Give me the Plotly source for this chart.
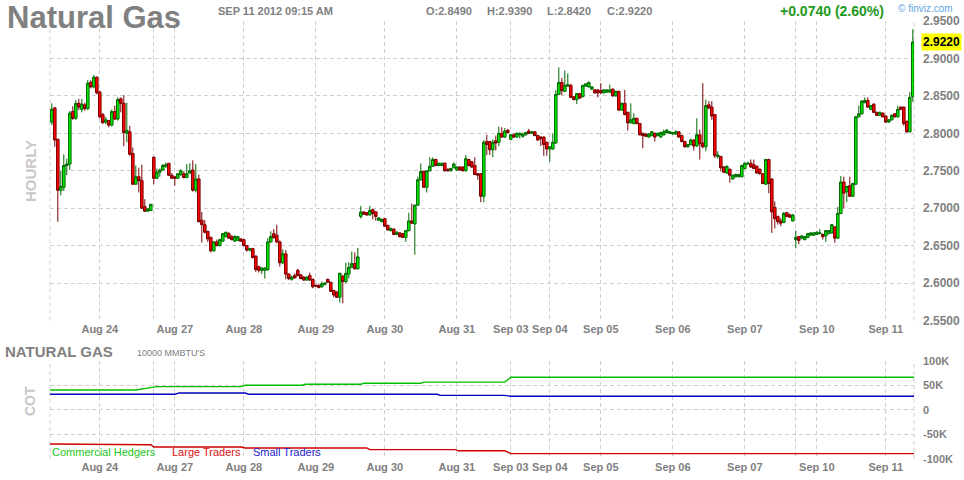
import plotly.graph_objects as go

# ---------------- data (hourly candles) ----------------
open_ = [
    2.815, 2.834, 2.792, 2.724, 2.728, 2.757, 2.759, 2.829, 2.820, 2.840, 2.832, 2.838,
    2.833, 2.868, 2.862, 2.875, 2.855, 2.825, 2.815, 2.817, 2.811, 2.829, 2.819, 2.846,
    2.840, 2.800, 2.802, 2.773, 2.732, 2.742, 2.737, 2.702, 2.696, 2.697, 2.768, 2.740,
    2.748, 2.751, 2.756, 2.760, 2.744, 2.742, 2.740, 2.745, 2.746, 2.741, 2.747, 2.751,
    2.724, 2.739, 2.684, 2.678, 2.669, 2.661, 2.643, 2.655, 2.650, 2.656, 2.662, 2.666,
    2.662, 2.656, 2.657, 2.659, 2.658, 2.650, 2.644, 2.646, 2.636, 2.622, 2.617, 2.617,
    2.618, 2.655, 2.666, 2.664, 2.655, 2.627, 2.639, 2.612, 2.605, 2.610, 2.617, 2.611,
    2.608, 2.604, 2.610, 2.605, 2.597, 2.597, 2.595, 2.598, 2.605, 2.601, 2.590, 2.588,
    2.581, 2.609, 2.602, 2.612, 2.621, 2.626, 2.619, 2.689, 2.695, 2.694, 2.691, 2.698,
    2.695, 2.684, 2.682, 2.686, 2.677, 2.670, 2.672, 2.665, 2.667, 2.666, 2.661, 2.670,
    2.683, 2.679, 2.704, 2.738, 2.749, 2.728, 2.750, 2.756, 2.765, 2.757, 2.757, 2.760,
    2.752, 2.750, 2.754, 2.751, 2.755, 2.755, 2.750, 2.765, 2.762, 2.757, 2.746, 2.746,
    2.716, 2.789, 2.789, 2.778, 2.790, 2.788, 2.800, 2.795, 2.804, 2.792, 2.798, 2.795,
    2.798, 2.796, 2.798, 2.803, 2.800, 2.802, 2.797, 2.795, 2.795, 2.788, 2.779, 2.779,
    2.787, 2.852, 2.868, 2.856, 2.863, 2.864, 2.849, 2.845, 2.853, 2.849, 2.863, 2.862,
    2.859, 2.858, 2.858, 2.857, 2.854, 2.855, 2.855, 2.859, 2.850, 2.856, 2.831, 2.840,
    2.828, 2.814, 2.813, 2.820, 2.813, 2.800, 2.799, 2.795, 2.797, 2.800, 2.797, 2.795,
    2.798, 2.801, 2.800, 2.799, 2.799, 2.802, 2.797, 2.789, 2.782, 2.785, 2.791, 2.783,
    2.798, 2.787, 2.782, 2.838, 2.835, 2.825, 2.769, 2.769, 2.755, 2.747, 2.752, 2.739,
    2.742, 2.742, 2.742, 2.753, 2.759, 2.760, 2.758, 2.756, 2.752, 2.746, 2.732, 2.765,
    2.739, 2.701, 2.689, 2.683, 2.681, 2.694, 2.691, 2.683, 2.658, 2.662, 2.660, 2.658,
    2.661, 2.664, 2.664, 2.665, 2.666, 2.665, 2.663, 2.666, 2.667, 2.675, 2.660, 2.693,
    2.735, 2.722, 2.730, 2.716, 2.732, 2.822, 2.826, 2.841, 2.844, 2.832, 2.839, 2.828,
    2.824, 2.827, 2.823, 2.815, 2.818, 2.826, 2.822, 2.835, 2.835, 2.816, 2.802, 2.849,
]
high = [
    2.840, 2.835, 2.793, 2.750, 2.772, 2.766, 2.830, 2.836, 2.844, 2.846, 2.846, 2.841,
    2.871, 2.871, 2.878, 2.876, 2.857, 2.827, 2.822, 2.818, 2.832, 2.837, 2.848, 2.848,
    2.851, 2.841, 2.810, 2.781, 2.757, 2.754, 2.758, 2.712, 2.700, 2.706, 2.769, 2.753,
    2.753, 2.759, 2.761, 2.760, 2.747, 2.742, 2.746, 2.752, 2.749, 2.759, 2.760, 2.764,
    2.759, 2.745, 2.695, 2.684, 2.670, 2.662, 2.656, 2.658, 2.659, 2.667, 2.668, 2.668,
    2.664, 2.664, 2.663, 2.660, 2.659, 2.651, 2.647, 2.647, 2.637, 2.623, 2.621, 2.621,
    2.660, 2.669, 2.672, 2.678, 2.657, 2.645, 2.644, 2.613, 2.610, 2.613, 2.619, 2.612,
    2.609, 2.609, 2.614, 2.606, 2.598, 2.598, 2.602, 2.601, 2.606, 2.602, 2.591, 2.589,
    2.614, 2.611, 2.627, 2.628, 2.642, 2.641, 2.647, 2.703, 2.696, 2.695, 2.703, 2.699,
    2.696, 2.688, 2.686, 2.687, 2.678, 2.674, 2.673, 2.669, 2.668, 2.667, 2.671, 2.694,
    2.706, 2.705, 2.742, 2.760, 2.750, 2.751, 2.768, 2.768, 2.766, 2.761, 2.761, 2.761,
    2.753, 2.754, 2.761, 2.756, 2.756, 2.756, 2.771, 2.766, 2.763, 2.768, 2.747, 2.747,
    2.791, 2.798, 2.790, 2.792, 2.797, 2.809, 2.808, 2.807, 2.806, 2.799, 2.800, 2.801,
    2.801, 2.801, 2.802, 2.806, 2.803, 2.803, 2.798, 2.796, 2.796, 2.789, 2.783, 2.800,
    2.858, 2.888, 2.874, 2.884, 2.880, 2.866, 2.850, 2.854, 2.854, 2.865, 2.867, 2.869,
    2.863, 2.859, 2.859, 2.867, 2.859, 2.859, 2.865, 2.860, 2.857, 2.857, 2.841, 2.858,
    2.829, 2.840, 2.827, 2.821, 2.814, 2.801, 2.800, 2.800, 2.803, 2.801, 2.801, 2.802,
    2.805, 2.806, 2.803, 2.802, 2.804, 2.803, 2.798, 2.790, 2.786, 2.793, 2.792, 2.820,
    2.805, 2.867, 2.845, 2.843, 2.843, 2.826, 2.776, 2.770, 2.756, 2.757, 2.753, 2.745,
    2.746, 2.746, 2.758, 2.761, 2.762, 2.765, 2.765, 2.757, 2.753, 2.747, 2.766, 2.766,
    2.740, 2.709, 2.690, 2.687, 2.695, 2.695, 2.693, 2.692, 2.670, 2.663, 2.664, 2.663,
    2.667, 2.668, 2.668, 2.669, 2.672, 2.666, 2.671, 2.671, 2.679, 2.676, 2.702, 2.743,
    2.742, 2.730, 2.742, 2.734, 2.823, 2.837, 2.844, 2.848, 2.848, 2.838, 2.840, 2.829,
    2.829, 2.828, 2.824, 2.819, 2.825, 2.827, 2.837, 2.836, 2.836, 2.817, 2.855, 2.939,
]
low = [
    2.811, 2.782, 2.682, 2.717, 2.723, 2.744, 2.751, 2.818, 2.818, 2.831, 2.828, 2.830,
    2.831, 2.860, 2.860, 2.852, 2.820, 2.813, 2.812, 2.808, 2.809, 2.818, 2.817, 2.828,
    2.783, 2.788, 2.770, 2.731, 2.731, 2.721, 2.699, 2.695, 2.695, 2.696, 2.732, 2.739,
    2.742, 2.750, 2.754, 2.743, 2.739, 2.730, 2.739, 2.743, 2.740, 2.740, 2.746, 2.722,
    2.721, 2.681, 2.654, 2.666, 2.655, 2.641, 2.642, 2.649, 2.649, 2.655, 2.661, 2.659,
    2.657, 2.655, 2.656, 2.655, 2.649, 2.642, 2.642, 2.633, 2.615, 2.614, 2.612, 2.606,
    2.616, 2.654, 2.659, 2.653, 2.622, 2.625, 2.605, 2.604, 2.603, 2.606, 2.609, 2.605,
    2.603, 2.603, 2.603, 2.593, 2.595, 2.593, 2.594, 2.597, 2.600, 2.588, 2.581, 2.580,
    2.574, 2.573, 2.600, 2.606, 2.620, 2.618, 2.618, 2.686, 2.691, 2.690, 2.690, 2.685,
    2.683, 2.683, 2.681, 2.675, 2.670, 2.669, 2.664, 2.664, 2.661, 2.660, 2.655, 2.669,
    2.679, 2.638, 2.703, 2.737, 2.727, 2.721, 2.749, 2.755, 2.756, 2.756, 2.756, 2.749,
    2.749, 2.749, 2.753, 2.750, 2.750, 2.749, 2.749, 2.756, 2.754, 2.744, 2.738, 2.708,
    2.708, 2.771, 2.771, 2.768, 2.777, 2.783, 2.794, 2.794, 2.800, 2.791, 2.794, 2.794,
    2.793, 2.794, 2.797, 2.799, 2.799, 2.796, 2.790, 2.783, 2.770, 2.770, 2.762, 2.778,
    2.786, 2.851, 2.851, 2.855, 2.862, 2.847, 2.844, 2.839, 2.846, 2.848, 2.862, 2.861,
    2.858, 2.853, 2.848, 2.853, 2.853, 2.854, 2.854, 2.849, 2.849, 2.830, 2.830, 2.824,
    2.804, 2.813, 2.812, 2.812, 2.797, 2.780, 2.795, 2.794, 2.796, 2.789, 2.796, 2.794,
    2.797, 2.800, 2.799, 2.798, 2.798, 2.794, 2.788, 2.781, 2.781, 2.784, 2.777, 2.782,
    2.765, 2.780, 2.776, 2.832, 2.818, 2.767, 2.766, 2.749, 2.747, 2.746, 2.734, 2.738,
    2.741, 2.741, 2.741, 2.752, 2.758, 2.754, 2.752, 2.746, 2.745, 2.732, 2.731, 2.720,
    2.667, 2.673, 2.678, 2.676, 2.680, 2.688, 2.687, 2.682, 2.647, 2.652, 2.659, 2.657,
    2.660, 2.663, 2.663, 2.664, 2.665, 2.658, 2.655, 2.665, 2.666, 2.654, 2.659, 2.692,
    2.700, 2.708, 2.715, 2.715, 2.731, 2.821, 2.825, 2.840, 2.834, 2.831, 2.827, 2.823,
    2.823, 2.821, 2.814, 2.814, 2.817, 2.821, 2.821, 2.831, 2.810, 2.801, 2.801, 2.842,
]
close = [
    2.832, 2.791, 2.724, 2.729, 2.757, 2.759, 2.827, 2.820, 2.840, 2.835, 2.839, 2.833,
    2.867, 2.862, 2.875, 2.854, 2.822, 2.814, 2.818, 2.811, 2.829, 2.819, 2.845, 2.840,
    2.801, 2.804, 2.772, 2.732, 2.742, 2.737, 2.700, 2.696, 2.699, 2.705, 2.740, 2.748,
    2.751, 2.757, 2.758, 2.744, 2.740, 2.740, 2.746, 2.750, 2.741, 2.746, 2.750, 2.724,
    2.739, 2.682, 2.678, 2.668, 2.659, 2.643, 2.655, 2.650, 2.658, 2.666, 2.668, 2.660,
    2.658, 2.662, 2.662, 2.656, 2.650, 2.644, 2.646, 2.634, 2.618, 2.617, 2.620, 2.620,
    2.655, 2.662, 2.661, 2.655, 2.627, 2.639, 2.612, 2.606, 2.608, 2.607, 2.610, 2.606,
    2.604, 2.608, 2.604, 2.595, 2.596, 2.594, 2.599, 2.600, 2.601, 2.589, 2.584, 2.581,
    2.613, 2.602, 2.613, 2.621, 2.626, 2.619, 2.635, 2.695, 2.692, 2.691, 2.697, 2.693,
    2.689, 2.687, 2.685, 2.676, 2.671, 2.673, 2.665, 2.668, 2.662, 2.661, 2.670, 2.683,
    2.680, 2.704, 2.738, 2.749, 2.728, 2.750, 2.756, 2.765, 2.757, 2.760, 2.760, 2.750,
    2.750, 2.753, 2.759, 2.755, 2.751, 2.750, 2.766, 2.757, 2.755, 2.745, 2.744, 2.716,
    2.788, 2.785, 2.778, 2.788, 2.787, 2.800, 2.795, 2.803, 2.801, 2.798, 2.795, 2.800,
    2.800, 2.799, 2.801, 2.800, 2.802, 2.797, 2.791, 2.793, 2.785, 2.779, 2.782, 2.788,
    2.852, 2.868, 2.857, 2.864, 2.865, 2.848, 2.845, 2.853, 2.847, 2.864, 2.866, 2.868,
    2.862, 2.854, 2.854, 2.854, 2.858, 2.858, 2.858, 2.850, 2.856, 2.831, 2.840, 2.825,
    2.814, 2.818, 2.820, 2.813, 2.798, 2.797, 2.796, 2.799, 2.802, 2.795, 2.800, 2.801,
    2.802, 2.804, 2.802, 2.801, 2.802, 2.795, 2.789, 2.782, 2.785, 2.791, 2.783, 2.798,
    2.786, 2.782, 2.837, 2.834, 2.823, 2.770, 2.771, 2.754, 2.748, 2.756, 2.744, 2.744,
    2.745, 2.745, 2.757, 2.760, 2.760, 2.755, 2.753, 2.747, 2.746, 2.733, 2.765, 2.733,
    2.695, 2.686, 2.682, 2.680, 2.693, 2.689, 2.688, 2.691, 2.661, 2.657, 2.663, 2.662,
    2.666, 2.667, 2.667, 2.668, 2.667, 2.662, 2.670, 2.670, 2.678, 2.660, 2.693, 2.735,
    2.720, 2.729, 2.716, 2.733, 2.822, 2.826, 2.843, 2.844, 2.835, 2.837, 2.828, 2.824,
    2.828, 2.822, 2.815, 2.818, 2.824, 2.822, 2.832, 2.832, 2.813, 2.802, 2.848, 2.922,
]
bar_index = list(range(len(close)))

# date ticks (bar index of each day boundary); blank text = unlabelled grid line
date_tick_index = [16, 34, 41, 64, 88, 111, 135, 153, 166, 183, 207, 231, 248, 255, 278]
date_tick_text = ["Aug 24", "", "Aug 27", "Aug 28", "Aug 29", "Aug 30", "Aug 31",
                  "Sep 03", "Sep 04", "Sep 05", "Sep 06", "Sep 07", "", "Sep 10", "Sep 11"]

price_ticks = [2.55, 2.60, 2.65, 2.70, 2.75, 2.80, 2.85, 2.90, 2.95]
price_tick_text = ["2.5500", "2.6000", "2.6500", "2.7000", "2.7500",
                   "2.8000", "2.8500", "2.9000", "2.9500"]
last_price = 2.922

cot_ticks = [-100000, -50000, 0, 50000, 100000]
cot_tick_text = ["-100K", "-50K", "0", "50K", "100K"]

# COT positions (bar index, contracts)
commercial_x = [-0.6, 28, 35, 63, 64.5, 83.5, 84.5, 103, 104, 123, 124, 151, 153, 287.4]
commercial_y = [40500, 40500, 47200, 47200, 50000, 50000, 52000, 52000, 54000, 54000,
                56500, 56500, 66200, 66200]
large_x = [-0.6, 15.5, 16.5, 33, 34, 63, 64.5, 105, 106, 134.5, 135.5, 151, 153, 287.4]
large_y = [-69400, -69400, -70900, -70900, -75500, -75500, -77500, -77500, -81000, -81000,
           -83300, -83300, -89000, -89000]
small_x = [-0.6, 41, 42.5, 64.5, 65.5, 128.5, 129.5, 151, 153, 287.4]
small_y = [31800, 31800, 34400, 34400, 31800, 31800, 29500, 29500, 27700, 27700]

# ---------------- figure ----------------
W, H = 964, 480
ML, MR, MT, MB = 50, 50, 21, 21
PW, PH = W - ML - MR, H - MT - MB


def px(x):
    return (x - ML) / PW


def py(y):
    return (H - MB - y) / PH


GRAY = "#808080"
GRID = "#cfcfcf"
FONT = "Arial, Liberation Sans, sans-serif"

fig = go.Figure()
fig.add_trace(go.Candlestick(
    x=bar_index, open=open_, high=high, low=low, close=close,
    xaxis="x", yaxis="y",
    increasing=dict(line=dict(color="#006a00", width=1), fillcolor="#00e600"),
    decreasing=dict(line=dict(color="#7a0000", width=1), fillcolor="#ff0000"),
    whiskerwidth=0, showlegend=False, hoverinfo="skip",
))
for xs, ys, col in [(commercial_x, commercial_y, "#00c000"),
                    (large_x, large_y, "#d00000"),
                    (small_x, small_y, "#0000c0")]:
    fig.add_trace(go.Scatter(x=xs, y=ys, mode="lines", line=dict(color=col, width=1.4),
                             xaxis="x2", yaxis="y2", showlegend=False, hoverinfo="skip"))

xcommon = dict(range=[-0.6, 287.4], tickmode="array", tickvals=date_tick_index,
               ticktext=date_tick_text, showgrid=True, gridcolor=GRID, gridwidth=1,
               griddash="4px,3px", zeroline=False, showline=False, ticks="",
               tickfont=dict(family=FONT, size=11, color=GRAY, weight="bold"),
               fixedrange=True, automargin=False)
ycommon = dict(side="right", showgrid=True, gridcolor=GRID, gridwidth=1, griddash="4px,3px",
               zeroline=False, showline=False, ticks="", ticklabelstandoff=8,
               fixedrange=True, automargin=False)

main_bottom = py(320.5)
cot_top = py(360.7)

fig.update_layout(
    width=W, height=H, margin=dict(l=ML, r=MR, t=MT, b=MB, autoexpand=False),
    paper_bgcolor="white", plot_bgcolor="white", boxgap=0.05, boxgroupgap=0.1,
    xaxis=dict(xcommon, domain=[0, 1], anchor="y", rangeslider=dict(visible=False)),
    yaxis=dict(ycommon, domain=[main_bottom, 1], range=[2.55, 2.95], anchor="x",
               tickmode="array", tickvals=price_ticks, ticktext=price_tick_text,
               tickfont=dict(family=FONT, size=12, color=GRAY, weight="bold")),
    xaxis2=dict(xcommon, domain=[0, 1], anchor="y2"),
    yaxis2=dict(ycommon, domain=[0, cot_top], range=[-100000, 100000], anchor="x2",
                tickmode="array", tickvals=cot_ticks, ticktext=cot_tick_text,
                tickfont=dict(family=FONT, size=11, color=GRAY, weight="bold")),
    showlegend=False,
)

# dashed frame lines left/right of both panels
for y0, y1 in [(main_bottom, 1), (0, cot_top)]:
    for xx in (0, 1):
        fig.add_shape(type="line", xref="paper", yref="paper", x0=xx, x1=xx, y0=y0, y1=y1,
                      line=dict(color=GRID, width=1, dash="4px,3px"), layer="below")


def note(text, x, y, size, color=GRAY, bold=True, xanchor="left", **kw):
    fig.add_annotation(text=text, xref="paper", yref="paper", x=px(x), y=py(y),
                       xanchor=xanchor, yanchor="middle", showarrow=False,
                       font=dict(family=FONT, size=size, color=color,
                                 weight="bold" if bold else "normal"), **kw)


note("Natural Gas", 5, 18, 31)
note("SEP 11 2012 09:15 AM", 216, 10.5, 11)
note("O:2.8490", 424, 10.5, 11)
note("H:2.9390", 485, 10.5, 11)
note("L:2.8420", 545, 10.5, 11)
note("C:2.9220", 605, 10.5, 11)
note("+0.0740 (2.60%)", 778, 11, 14, color="#1e9a1e")
note("\u00a9 finviz.com", 896, 8.5, 10, color="#5ea3e0", bold=False)
note("HOURLY", 30, 171, 15, color="#c8c8c8", xanchor="center", textangle=-90)
note("NATURAL GAS", 3, 351, 15)
note("10000 MMBTU'S", 135, 352.5, 9, bold=False)
note("COT", 30, 401, 14, color="#c8c8c8", xanchor="center", textangle=-90)
note("Commercial Hedgers", 50, 452, 11, color="#22c822", bold=False)
note("Large Traders", 170, 452, 11, color="#dd1111", bold=False)
note("Small Traders", 251, 452, 11, color="#2222cc", bold=False)

# last-price marker on the price axis
fig.add_annotation(text="2.9220", xref="paper", yref="y", x=px(921), y=last_price,
                   xanchor="left", yanchor="middle", showarrow=False, bgcolor="#ffff00",
                   borderpad=1, font=dict(family=FONT, size=12, color="#000000", weight="bold"))

fig.write_html("out.html", config={"displayModeBar": False, "staticPlot": True},
               post_script="document.body.style.margin='0';document.body.style.padding='0';")
